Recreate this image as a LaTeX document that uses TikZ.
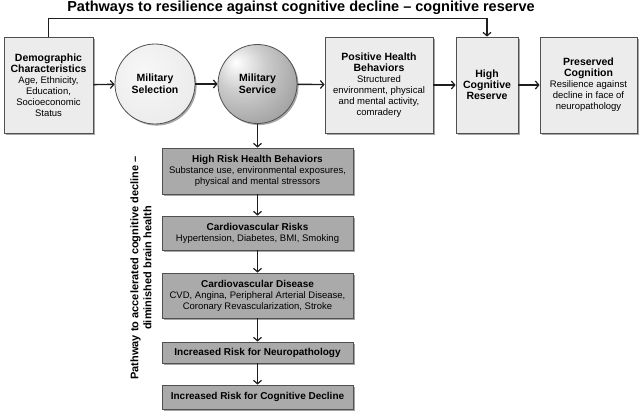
\documentclass[tikz,border=0pt]{standalone}
\usepackage{fontspec}
\setmainfont{Liberation Sans}
\usetikzlibrary{arrows.meta,shadows}
\definecolor{lightbox}{RGB}{236,236,236}
\definecolor{darkbox}{RGB}{170,170,170}
\definecolor{edge}{RGB}{80,80,80}
\definecolor{lineclr}{RGB}{30,30,30}
\pgfdeclareradialshading{svcshade}{\pgfpoint{-14bp}{14bp}}{color(0bp)=(white); color(16bp)=(gray!40); color(42bp)=(gray!85); color(70bp)=(gray!95!black)}
\pgfdeclareradialshading{selshade}{\pgfpoint{-8bp}{8bp}}{color(0bp)=(gray!6); color(30bp)=(gray!15); color(60bp)=(gray!28)}
\newcommand\hd[1]{{\fontsize{10.5}{13}\selectfont\bfseries #1}}
\newcommand\gh[1]{{\fontsize{10}{12.5}\selectfont\bfseries #1}}
\begin{document}
\begin{tikzpicture}[x=1pt,y=-1pt,
  shadowed/.style={drop shadow={shadow xshift=1.6pt,shadow yshift=-1.6pt,fill=black,opacity=0.35}},
  lbox/.style={draw=edge,line width=0.8pt,fill=lightbox,shadowed,align=center,inner sep=2pt,
    font=\fontsize{9.5}{11}\selectfont},
  gbox/.style={draw=edge,line width=0.8pt,fill=darkbox,shadowed,align=center,inner sep=2pt,
    minimum width=191pt,font=\fontsize{9.5}{11}\selectfont},
  circ/.style={circle,draw=edge,line width=0.8pt,shadowed,align=center,inner sep=0pt},
  conn/.style={draw=lineclr,line width=1.4pt,-{Straight Barb[length=3.5pt,width=8pt,line width=1.2pt]}},
]
\useasboundingbox (0,0) rectangle (640,415);

\node[font=\fontsize{14.5}{16}\selectfont\bfseries] (title) at (301,8) {Pathways to resilience against cognitive decline -- cognitive reserve};

\node[lbox,minimum width=89pt,minimum height=96pt] (demo) at (48.5,85)
  {\hd{Demographic}\\\hd{Characteristics}\\Age, Ethnicity,\\Education,\\Socioeconomic\\Status};
\node[circ,minimum size=80pt,shading=selshade] (sel) at (155,84) {\hd{Military}\\\hd{Selection}};
\node[circ,minimum size=79pt,shading=svcshade] (svc) at (257.5,84) {\hd{Military}\\\hd{Service}};
\node[lbox,minimum width=108pt,minimum height=96pt] (pos) at (379,85)
  {\hd{Positive Health}\\\hd{Behaviors}\\Structured\\environment, physical\\and mental activity,\\comradery};
\node[lbox,minimum width=62pt,minimum height=96pt] (hcr) at (487,85)
  {\hd{High}\\\hd{Cognitive}\\\hd{Reserve}};
\node[lbox,minimum width=97pt,minimum height=96pt] (pres) at (588.5,85)
  {\hd{Preserved}\\\hd{Cognition}\\Resilience against\\decline in face of\\neuropathology};

\node[gbox,minimum height=46pt] (hr) at (257.5,171)
  {\gh{High Risk Health Behaviors}\\Substance use, environmental exposures,\\physical and mental stressors};
\node[gbox,minimum height=34pt] (cvr) at (257.5,233)
  {\gh{Cardiovascular Risks}\\Hypertension, Diabetes, BMI, Smoking};
\node[gbox,minimum height=45pt] (cvd) at (257.5,295.5)
  {\gh{Cardiovascular Disease}\\CVD, Angina, Peripheral Arterial Disease,\\Coronary Revascularization, Stroke};
\node[gbox,minimum height=21pt] (neuro) at (257.5,352.5)
  {\gh{Increased Risk for Neuropathology}};
\node[gbox,minimum height=24pt] (cogd) at (257.5,397)
  {\gh{Increased Risk for Cognitive Decline}};

\node[rotate=90,align=center,font=\fontsize{11}{13}\selectfont\bfseries] (side) at (141,268)
  {Pathway to accelerated cognitive decline --\\diminished brain health};

\draw[conn] (demo) -- (sel);
\draw[conn] (sel) -- (svc);
\draw[conn] (svc) -- (pos);
\draw[conn] (pos) -- (hcr);
\draw[conn] (hcr) -- (pres);
\draw[conn] (demo.north) -- ++(0,-18) -| (hcr.north);
\draw[conn] (svc) -- (hr);
\draw[conn] (hr) -- (cvr);
\draw[conn] (cvr) -- (cvd);
\draw[conn] (cvd) -- (neuro);
\draw[conn] (neuro) -- (cogd);
\end{tikzpicture}
\end{document}
